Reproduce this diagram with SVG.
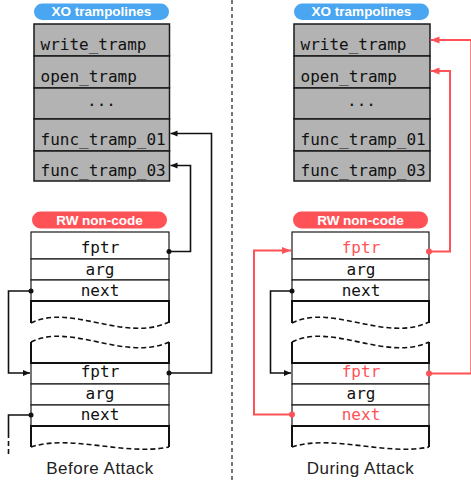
<svg xmlns="http://www.w3.org/2000/svg" width="471" height="480" viewBox="0 0 471 480">
<style>
.mono{font-family:"DejaVu Sans Mono","Liberation Mono",monospace;font-size:16px;fill:#111}
.mid{text-anchor:middle}
.red{fill:#ff5257}
.pilltxt{font-family:"Liberation Sans",Arial,sans-serif;font-weight:bold;font-size:13.5px;fill:#fff;text-anchor:middle}
.cap{font-family:"Liberation Sans",Arial,sans-serif;font-size:17px;fill:#222;text-anchor:middle;letter-spacing:0.5px}
.xo{fill:#b3b3b3;stroke:#1a1a1a;stroke-width:1.5}
.row{fill:#fff;stroke:#1a1a1a;stroke-width:1.2}
.thick{stroke:#111;stroke-width:2;fill:none}
.wave{stroke:#111;stroke-width:1.6;fill:none;stroke-dasharray:5 3}
.bl{stroke:#111;stroke-width:1.6;fill:none}
.rl{stroke:#ff5257;stroke-width:2;fill:none}
</style>
<defs>
<marker id="ab" markerUnits="userSpaceOnUse" markerWidth="8" markerHeight="7" refX="7" refY="3" orient="auto"><path d="M0,0 L7,3 L0,6 z" fill="#111"/></marker>
<marker id="ar" markerUnits="userSpaceOnUse" markerWidth="10" markerHeight="8" refX="9" refY="3.5" orient="auto"><path d="M0,0 L9,3.5 L0,7 z" fill="#ff5257"/></marker>
</defs>

<!-- divider -->
<line x1="232" y1="0" x2="232" y2="480" stroke="#777" stroke-width="2" stroke-dasharray="4 3"/>

<!-- LEFT PANEL -->
<g id="xo-left">
<rect x="34" y="3.5" width="135" height="16.5" rx="8.25" fill="#4aa6f0"/>
<text x="101.5" y="16.3" class="pilltxt">XO trampolines</text>
<rect class="xo" x="34" y="24" width="135.5" height="32"/>
<rect class="xo" x="34" y="56" width="135.5" height="32"/>
<rect class="xo" x="34" y="88" width="135.5" height="31"/>
<rect class="xo" x="34" y="119" width="135.5" height="32"/>
<rect class="xo" x="34" y="151" width="135.5" height="30"/>
<text x="40.5" y="50" class="mono">write_tramp</text>
<text x="40.5" y="82" class="mono">open_tramp</text>
<text x="101.5" y="106" class="mono mid">...</text>
<text x="40.5" y="145" class="mono">func_tramp_01</text>
<text x="40.5" y="176" class="mono">func_tramp_03</text>
</g>

<g id="rw-left">
<rect x="32" y="211.5" width="135" height="17" rx="8.5" fill="#ff5257"/>
<text x="99.5" y="225" class="pilltxt">RW non-code</text>
<rect class="row" x="31" y="232" width="138" height="27"/>
<rect class="row" x="31" y="259" width="138" height="21"/>
<rect class="row" x="31" y="280" width="138" height="21"/>
<text x="100" y="253" class="mono mid">fptr</text>
<text x="100" y="275" class="mono mid">arg</text>
<text x="100" y="296" class="mono mid">next</text>
<line class="thick" x1="30" y1="301" x2="170" y2="301"/>
<line class="thick" x1="31" y1="301" x2="31" y2="323"/>
<line class="thick" x1="169" y1="301" x2="169" y2="323"/>
<path class="wave" d="M31,323 C70,303 125,343 169,322"/>
<path class="wave" d="M31,342 C70,322 125,362 169,342"/>
<line class="thick" x1="31" y1="342" x2="31" y2="363"/>
<line class="thick" x1="169" y1="342" x2="169" y2="363"/>
<rect class="row" x="31" y="363" width="138" height="21"/>
<rect class="row" x="31" y="384" width="138" height="21"/>
<rect class="row" x="31" y="405" width="138" height="21"/>
<line class="thick" x1="30" y1="363" x2="170" y2="363"/>
<line class="thick" x1="30" y1="426" x2="170" y2="426"/>
<text x="100" y="377" class="mono mid">fptr</text>
<text x="100" y="399" class="mono mid">arg</text>
<text x="100" y="420" class="mono mid">next</text>
<line class="thick" x1="31" y1="426" x2="31" y2="447"/>
<line class="thick" x1="169" y1="426" x2="169" y2="447"/>
<path class="wave" d="M31,447 C70,434 125,456 169,447"/>
</g>
<text x="100" y="474" class="cap">Before Attack</text>

<!-- RIGHT PANEL -->
<g id="xo-right">
<rect x="294" y="3.5" width="135" height="16.5" rx="8.25" fill="#4aa6f0"/>
<text x="361.5" y="16.3" class="pilltxt">XO trampolines</text>
<rect class="xo" x="294" y="24" width="136" height="32"/>
<rect class="xo" x="294" y="56" width="136" height="32"/>
<rect class="xo" x="294" y="88" width="136" height="31"/>
<rect class="xo" x="294" y="119" width="136" height="32"/>
<rect class="xo" x="294" y="151" width="136" height="30"/>
<text x="300.5" y="50" class="mono">write_tramp</text>
<text x="300.5" y="82" class="mono">open_tramp</text>
<text x="361.5" y="106" class="mono mid">...</text>
<text x="300.5" y="145" class="mono">func_tramp_01</text>
<text x="300.5" y="176" class="mono">func_tramp_03</text>
</g>

<g id="rw-right">
<rect x="293" y="211.5" width="135" height="17" rx="8.5" fill="#ff5257"/>
<text x="360.5" y="225" class="pilltxt">RW non-code</text>
<rect class="row" x="292" y="232" width="137" height="27"/>
<rect class="row" x="292" y="259" width="137" height="21"/>
<rect class="row" x="292" y="280" width="137" height="21"/>
<text x="361" y="253" class="mono mid red">fptr</text>
<text x="361" y="275" class="mono mid">arg</text>
<text x="361" y="296" class="mono mid">next</text>
<line class="thick" x1="291" y1="301" x2="430" y2="301"/>
<line class="thick" x1="292" y1="301" x2="292" y2="323"/>
<line class="thick" x1="429" y1="301" x2="429" y2="323"/>
<path class="wave" d="M292,323 C331,303 386,343 429,322"/>
<path class="wave" d="M292,342 C331,322 386,362 429,342"/>
<line class="thick" x1="292" y1="342" x2="292" y2="363"/>
<line class="thick" x1="429" y1="342" x2="429" y2="363"/>
<rect class="row" x="292" y="363" width="137" height="21"/>
<rect class="row" x="292" y="384" width="137" height="21"/>
<rect class="row" x="292" y="405" width="137" height="21"/>
<line class="thick" x1="291" y1="363" x2="430" y2="363"/>
<line class="thick" x1="291" y1="426" x2="430" y2="426"/>
<text x="361" y="377" class="mono mid red">fptr</text>
<text x="361" y="399" class="mono mid">arg</text>
<text x="361" y="420" class="mono mid red">next</text>
<line class="thick" x1="292" y1="426" x2="292" y2="447"/>
<line class="thick" x1="429" y1="426" x2="429" y2="447"/>
<path class="wave" d="M292,447 C331,434 386,456 429,447"/>
</g>
<text x="360.5" y="474" class="cap">During Attack</text>

<!-- CONNECTORS -->
<g id="connectors">
<polyline class="bl" points="169,373 211.5,373 211.5,133.5 170.5,133.5" marker-end="url(#ab)"/>
<circle cx="169" cy="373" r="2.5" fill="#111"/>
<polyline class="bl" points="169,251.5 190.5,251.5 190.5,165.5 170.5,165.5" marker-end="url(#ab)"/>
<circle cx="169" cy="251.5" r="2.5" fill="#111"/>
<polyline class="bl" points="31,291 8.5,291 8.5,373 30,373" marker-end="url(#ab)"/>
<circle cx="31" cy="291" r="2.5" fill="#111"/>
<polyline class="bl" points="31,415 8.5,415 8.5,433"/>
<line class="bl" x1="8.5" y1="433" x2="8.5" y2="455" stroke-dasharray="5 3"/>
<circle cx="31" cy="415" r="2.5" fill="#111"/>

<polyline class="bl" points="292,291 270.5,291 270.5,373 291,373" marker-end="url(#ab)"/>
<circle cx="292" cy="291" r="2.5" fill="#111"/>
<polyline class="rl" points="292,414.5 254,414.5 254,250.5 291,250.5" marker-end="url(#ar)"/>
<circle cx="292" cy="414.5" r="3" fill="#ff5257"/>
<polyline class="rl" points="429,251.5 450,251.5 450,71 430.5,71" marker-end="url(#ar)"/>
<circle cx="429" cy="251.5" r="3" fill="#ff5257"/>
<polyline class="rl" points="429,373.5 471.3,373.5 471.3,40 430.5,40" marker-end="url(#ar)"/>
<circle cx="429" cy="373.5" r="3" fill="#ff5257"/>
</g>
</svg>
